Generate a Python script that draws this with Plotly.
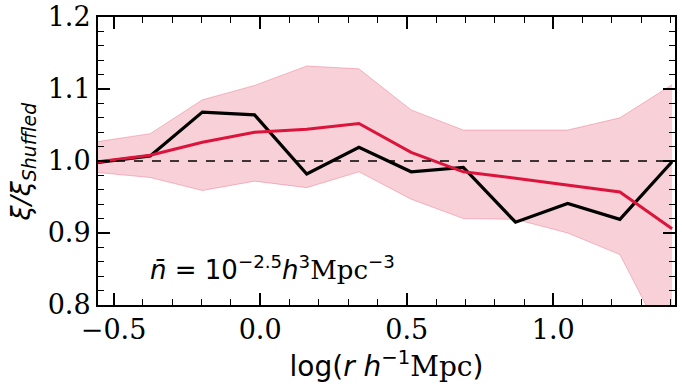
import plotly.graph_objects as go

# bin centres, log(r / h^-1 Mpc)
log_r = [-0.553, -0.375, -0.197, -0.019, 0.159, 0.337, 0.515, 0.693, 0.871, 1.049, 1.227, 1.405]

# measured ratio (black) and mean of mocks (red) with band
ratio_obs = [0.998, 1.007, 1.068, 1.064, 0.982, 1.019, 0.985, 0.991, 0.915, 0.941, 0.919, 0.999]
ratio_mean = [0.999, 1.008, 1.026, 1.040, 1.044, 1.052, 1.012, 0.985, 0.976, 0.967, 0.957, 0.906]
band_hi = [1.027, 1.038, 1.085, 1.105, 1.132, 1.128, 1.071, 1.043, 1.043, 1.043, 1.060, 1.106]
band_lo = [0.984, 0.977, 0.959, 0.972, 0.963, 0.985, 0.947, 0.920, 0.919, 0.900, 0.870, 0.730]

x_ticks = [-0.5, 0.0, 0.5, 1.0]
y_ticks = [0.8, 0.9, 1.0, 1.1, 1.2]

SERIF = "DejaVu Serif, serif"
SANS = "DejaVu Sans, sans-serif"

fig = go.Figure()

# shaded band
fig.add_trace(go.Scatter(
    x=log_r, y=band_hi, mode="lines",
    line=dict(color="rgba(220,20,60,0.25)", width=1),
    showlegend=False, hoverinfo="skip",
))
fig.add_trace(go.Scatter(
    x=log_r, y=band_lo, mode="lines",
    line=dict(color="rgba(220,20,60,0.25)", width=1),
    fill="tonexty", fillcolor="rgba(220,20,60,0.2)",
    showlegend=False, hoverinfo="skip",
))

# reference line at unity
fig.add_hline(y=1.0, line_dash="dash", line_color="black", line_width=1.5)

fig.add_trace(go.Scatter(
    x=log_r, y=ratio_obs, mode="lines",
    line=dict(color="black", width=3.2),
    showlegend=False,
))
fig.add_trace(go.Scatter(
    x=log_r, y=ratio_mean, mode="lines",
    line=dict(color="crimson", width=3),
    showlegend=False,
))

fig.add_annotation(
    x=-0.383, y=0.852, xref="x", yref="y",
    xanchor="left", yanchor="middle", showarrow=False,
    text=("<i>n\u0304</i> = 10<sup>\u22122.5</sup><i>h</i><sup>3</sup>"
          "<span style='font-family:DejaVu Serif'>Mpc</span><sup>\u22123</sup>"),
    font=dict(family=SANS, size=26, color="black"),
)

# y-axis title as annotation so it can sit further left
fig.add_annotation(
    x=-0.131, y=0.5, xref="paper", yref="paper",
    xanchor="center", yanchor="middle", showarrow=False, textangle=-90,
    text="<i>\u03be/\u03be<sub>Shuffled</sub></i>",
    font=dict(family=SANS, size=27, color="black"),
)

axis_common = dict(
    showline=True, linecolor="black", linewidth=2, mirror="ticks",
    ticks="inside", ticklen=12, tickwidth=1.5, tickcolor="black",
    showgrid=False, zeroline=False, automargin=False,
    tickfont=dict(family=SERIF, size=27, color="black"),
)

fig.update_xaxes(
    range=[-0.553, 1.415], tickvals=x_ticks,
    ticktext=["\u22120.5", "0.0", "0.5", "1.0"],
    minor=dict(dtick=0.1, tick0=0, ticks="inside", ticklen=6, tickwidth=1, tickcolor="black"),
    title=dict(
        text="log(<i>r h</i><sup>\u22121</sup><span style='font-family:DejaVu Serif'>Mpc</span>)",
        font=dict(family=SANS, size=28, color="black"), standoff=12,
    ),
    **axis_common,
)
fig.update_yaxes(
    range=[0.8, 1.2], tickvals=y_ticks,
    ticktext=["0.8", "0.9", "1.0", "1.1", "1.2"],
    minor=dict(dtick=0.02, tick0=0.8, ticks="inside", ticklen=6, tickwidth=1, tickcolor="black"),
    **axis_common,
)

fig.update_layout(
    width=682, height=391,
    margin=dict(l=98, r=7, t=17, b=86),
    plot_bgcolor="white", paper_bgcolor="white",
    showlegend=False,
)

fig.write_html(
    "out.html",
    config={"displayModeBar": False},
    post_script="document.body.style.margin='0';",
)
